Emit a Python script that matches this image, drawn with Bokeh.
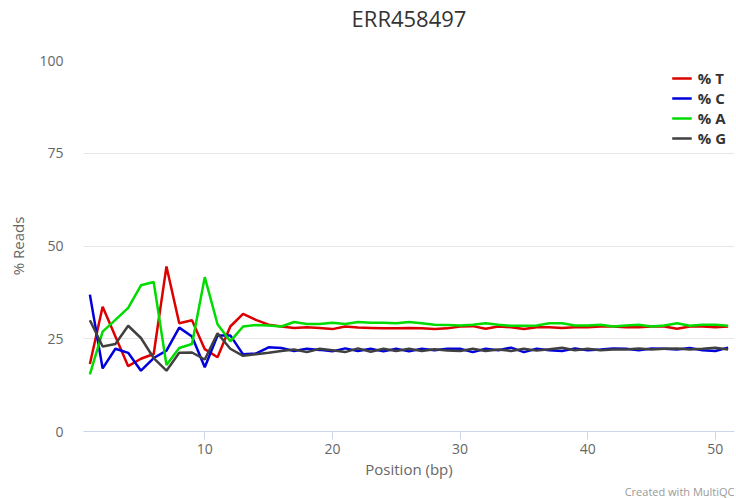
from bokeh.plotting import figure
from bokeh.models import Range1d, Legend, LegendItem, Title, FixedTicker
from bokeh.embed import file_html
from bokeh.resources import INLINE

positions = list(range(1, 52))
pct_t = [18.2, 33.6, 25.6, 17.6, 19.6, 20.9, 44.5, 29.2, 30.0, 22.2, 20.0, 28.3, 31.7, 30.1, 28.8, 28.3, 27.9,
         28.1, 27.9, 27.6, 28.3, 28.0, 27.9, 27.8, 27.8, 27.9, 27.8, 27.6, 27.8, 28.3, 28.4, 27.7, 28.3, 28.1,
         27.6, 28.1, 28.1, 27.9, 28.1, 28.1, 28.3, 28.3, 28.1, 28.1, 28.3, 28.3, 27.7, 28.3, 28.3, 28.1, 28.3]
pct_c = [36.9, 17.0, 22.3, 21.2, 16.4, 19.8, 21.8, 28.0, 25.6, 17.3, 25.9, 25.9, 20.8, 21.0, 22.7, 22.5, 21.7,
         22.3, 22.0, 21.6, 22.4, 21.7, 22.3, 21.6, 22.3, 21.6, 22.3, 21.9, 22.3, 22.3, 21.4, 22.3, 21.9, 22.6,
         21.4, 22.3, 21.9, 21.7, 22.4, 21.9, 22.1, 22.4, 22.3, 21.9, 22.4, 22.3, 22.1, 22.5, 21.9, 21.7, 22.6]
pct_a = [15.4, 26.9, 30.1, 33.3, 39.4, 40.3, 17.9, 22.5, 23.6, 41.6, 28.9, 24.3, 28.3, 28.7, 28.6, 28.3, 29.5,
         29.0, 29.0, 29.3, 29.0, 29.5, 29.3, 29.3, 29.2, 29.5, 29.2, 28.8, 28.7, 28.6, 28.8, 29.2, 28.8, 28.5,
         28.5, 28.6, 29.2, 29.2, 28.6, 28.6, 28.8, 28.3, 28.6, 28.8, 28.3, 28.6, 29.2, 28.5, 28.8, 28.8, 28.5]
pct_g = [30.0, 22.9, 23.6, 28.5, 25.2, 19.8, 16.4, 21.2, 21.3, 19.4, 26.5, 22.3, 20.4, 20.8, 21.2, 21.7, 22.1,
         21.4, 22.3, 21.9, 21.4, 22.4, 21.5, 22.3, 21.7, 22.3, 21.7, 22.2, 21.8, 21.7, 22.3, 21.7, 22.1, 21.7,
         22.3, 21.8, 22.2, 22.6, 21.9, 22.3, 21.9, 22.1, 22.1, 22.4, 22.1, 22.3, 22.4, 22.1, 22.3, 22.6, 22.1]

series_names = ["% T", "% C", "% A", "% G"]
series_colors = ["#dc0000", "#0000dc", "#00dc00", "#404040"]
x_ticks = [10, 20, 30, 40, 50]
y_ticks = [0, 25, 50, 75, 100]
title_text = "ERR458497"
credit_text = "Created with MultiQC"

FONT = "Open Sans"

p = figure(width=736, height=498, output_backend="svg", toolbar_location=None,
           x_range=Range1d(0.5, 51.5), y_range=Range1d(0, 100),
           min_border_left=83, min_border_right=2, min_border_top=55, min_border_bottom=66)

p.title.text = title_text + "\n "
p.title.align = "center"
p.title.vertical_align = "bottom"
p.title.standoff = 0
p.title.text_line_height = 0.92
p.title.text_font = FONT
p.title.text_font_size = "22px"
p.title.text_font_style = "normal"
p.title.text_color = "#333333"

p.outline_line_color = None
p.background_fill_color = "white"
p.border_fill_color = "white"

p.xgrid.grid_line_color = None
p.ygrid.grid_line_color = "#e6e6e6"
p.ygrid.grid_line_width = 1

p.xaxis.ticker = FixedTicker(ticks=x_ticks)
p.yaxis.ticker = FixedTicker(ticks=y_ticks)
p.xaxis.minor_tick_line_color = None
p.yaxis.minor_tick_line_color = None
p.xaxis.axis_line_color = "#ccd6eb"
p.xaxis.major_tick_line_color = "#ccd6eb"
p.xaxis.major_tick_out = 8
p.xaxis.major_tick_in = 0
p.xaxis.major_label_standoff = 4
p.yaxis.axis_line_color = None
p.yaxis.major_tick_line_color = None
p.yaxis.major_tick_out = 0
p.yaxis.major_tick_in = 0
p.yaxis.major_label_standoff = 20

for ax in (p.xaxis, p.yaxis):
    ax.major_label_text_font = FONT
    ax.major_label_text_font_size = "14px"
    ax.major_label_text_color = "#666666"
    ax.axis_label_text_font = FONT
    ax.axis_label_text_font_size = "15px"
    ax.axis_label_text_font_style = "normal"
    ax.axis_label_text_color = "#666666"

p.xaxis.axis_label = "Position (bp)"
p.xaxis.axis_label_standoff = 2
p.yaxis.axis_label = "% Reads"
p.yaxis.axis_label_standoff = 8

items = []
for name, col, vals in zip(series_names, series_colors, [pct_t, pct_c, pct_a, pct_g]):
    r = p.line(positions, vals, line_color=col, line_width=2.5)
    items.append(LegendItem(label=name, renderers=[r]))

legend = Legend(items=items, location="top_right", margin=8, padding=10,
                border_line_color=None, background_fill_alpha=0,
                label_text_font=FONT, label_text_font_size="15px", label_text_font_style="bold",
                label_text_color="#333333", glyph_width=20, glyph_height=14, label_height=14,
                spacing=0, label_standoff=6)
p.add_layout(legend)

credit = Title(text=credit_text, align="right", text_font=FONT, text_font_size="11px",
               text_font_style="normal", text_color="#999999", standoff=0)
p.add_layout(credit, "below")

open("out.html", "w").write(file_html(p, INLINE))
